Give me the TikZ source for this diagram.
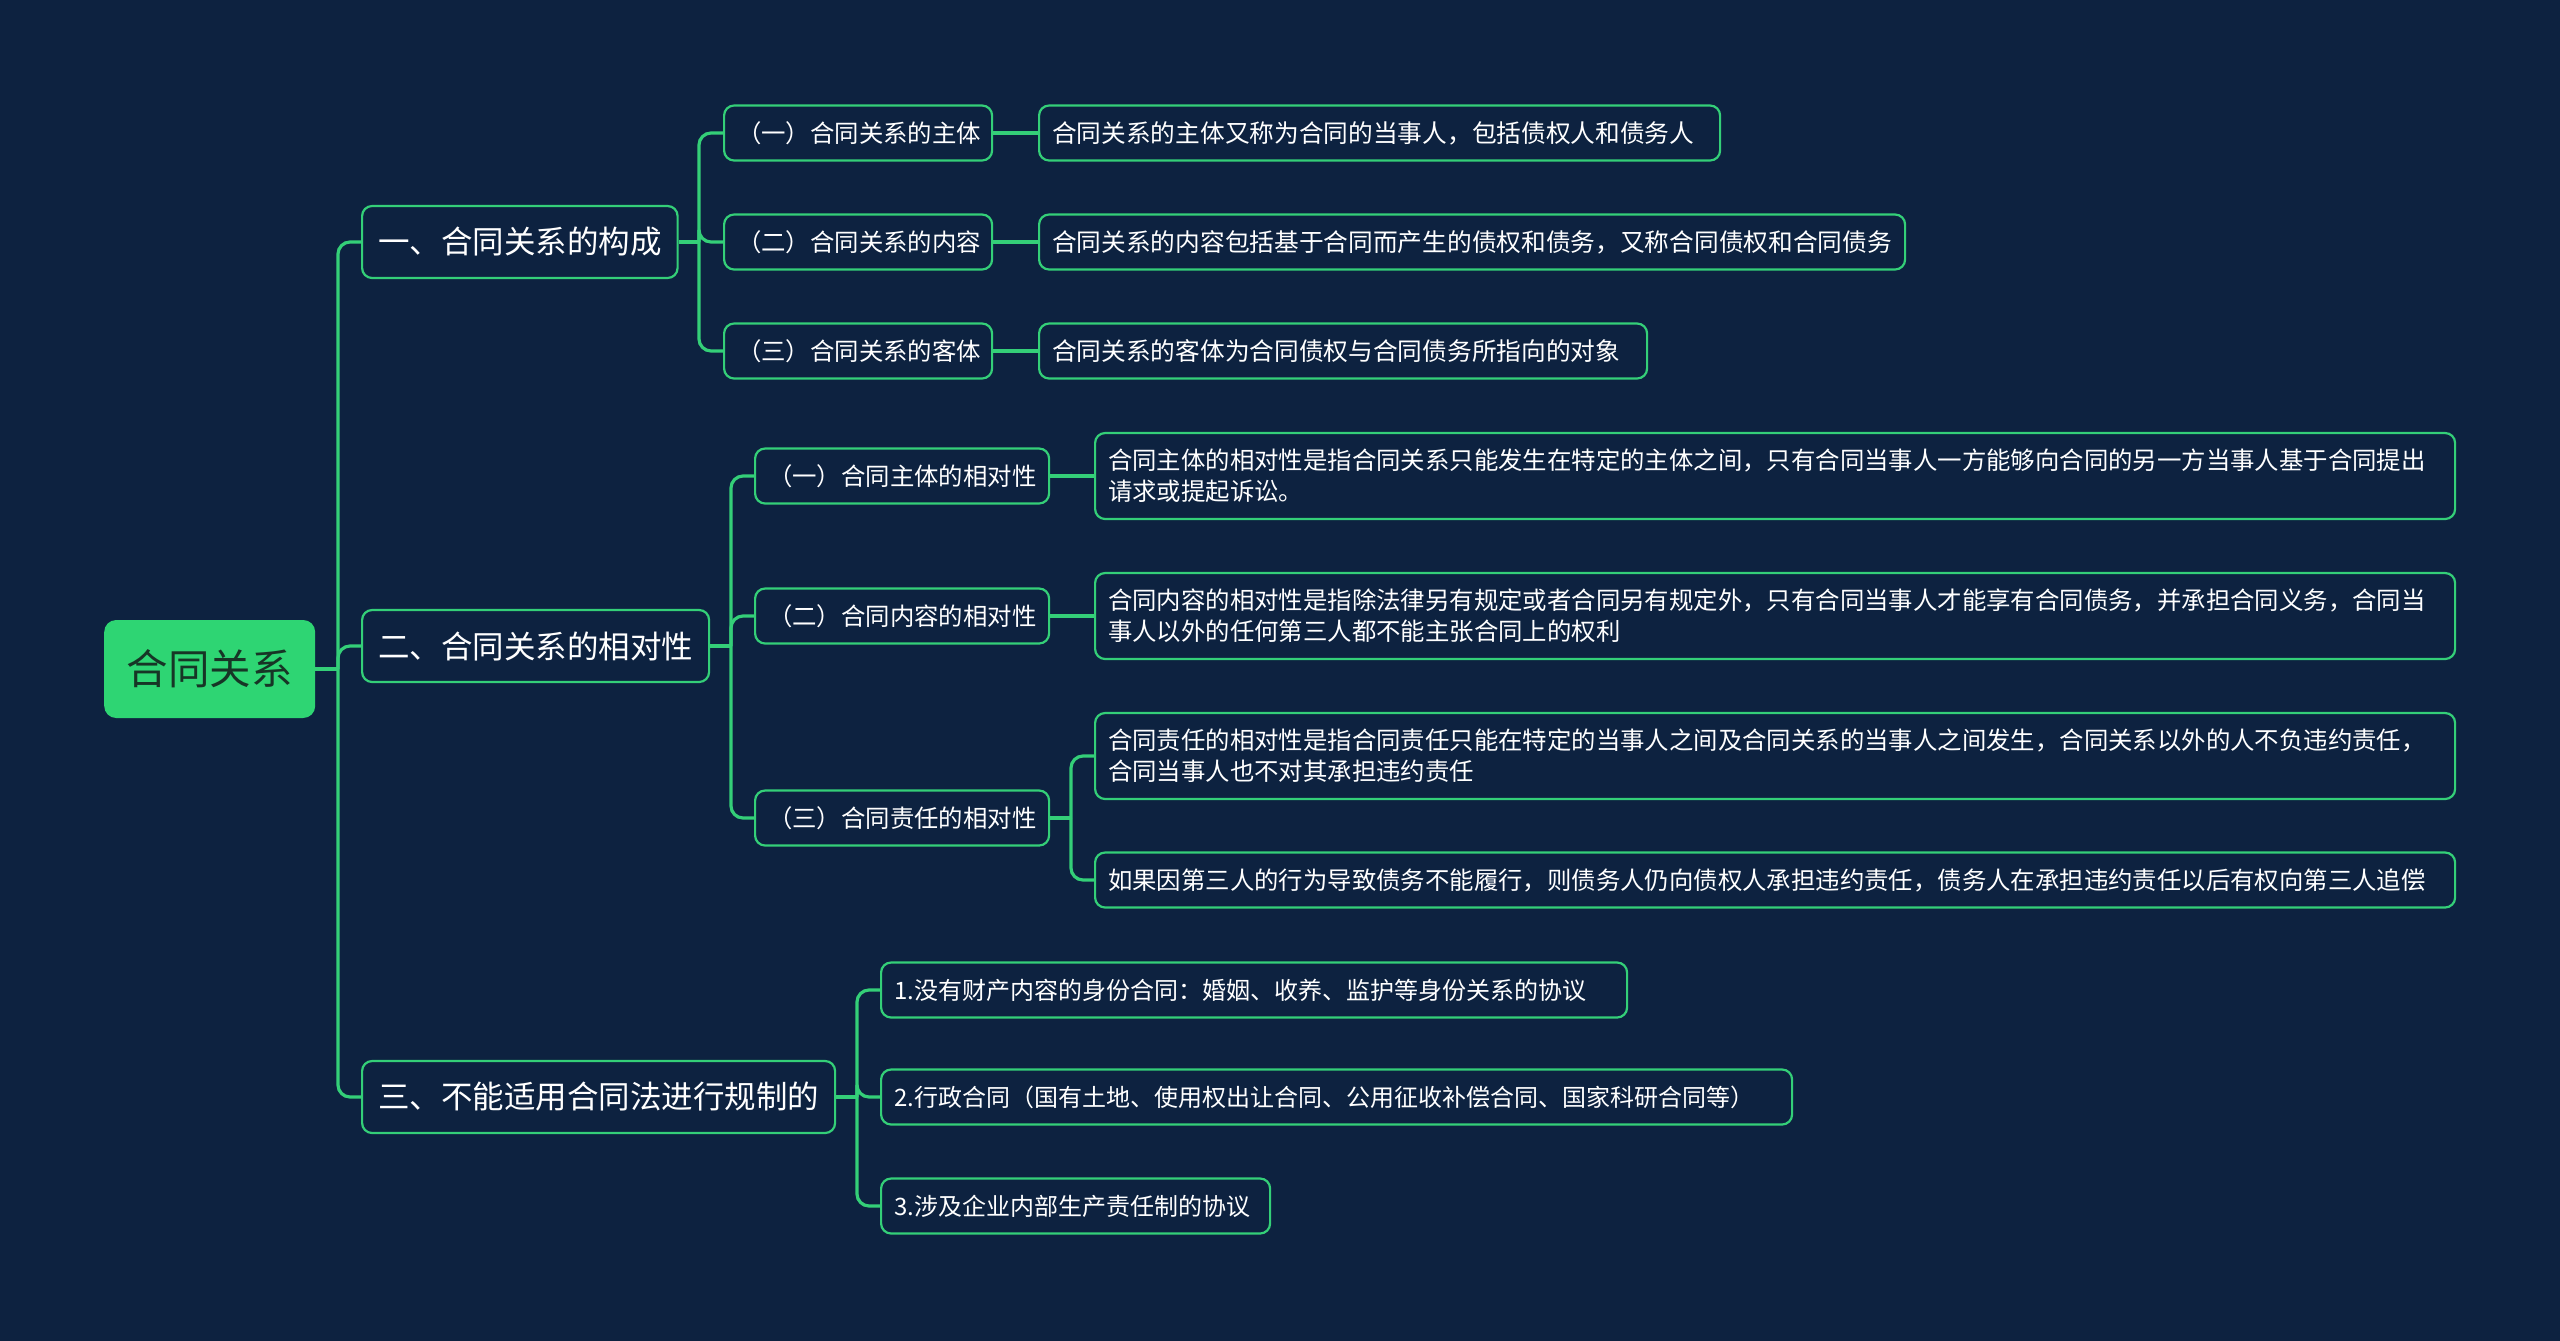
\documentclass[tikz,border=0pt]{standalone}
\usepackage{fontspec}
\setmainfont{Noto Sans CJK SC}
\definecolor{bg}{HTML}{0D2240}
\definecolor{ln}{HTML}{34CF78}
\definecolor{rootfill}{HTML}{2ED573}
\definecolor{roottext}{HTML}{173526}
\begin{document}
\begin{tikzpicture}[x=1pt,y=-1pt,
 box/.style={draw=ln, line width=2.2pt, fill=bg, rounded corners=10pt, text=white, anchor=west, inner ysep=0pt},
 lone/.style={box, font=\fontsize{31.5}{38}\selectfont, minimum height=72pt, inner xsep=16pt, align=center},
 ltwo/.style={box, font=\fontsize{24.4}{31}\selectfont, minimum height=55pt, inner xsep=13pt, align=left},
 ltwoa/.style={ltwo, font=\fontsize{24.7}{31}\selectfont},
 ltwoc/.style={ltwo, font=\fontsize{24}{31}\selectfont},
 conn/.style={draw=ln, line width=3.2pt, rounded corners=12pt},
]
\fill[bg] (0,0) rectangle (2560,1341);
\useasboundingbox (0,0) rectangle (2560,1341);

% root
\node[fill=rootfill, rounded corners=12pt, minimum width=211pt, minimum height=98pt, anchor=west,
      text=roottext, font=\fontsize{41.5}{48}\selectfont] (root) at (104,669) {合同关系};

% level 1
\node[lone, minimum width=315pt] (L1a) at (361,242) {一、合同关系的构成};
\node[lone, minimum width=346pt] (L1b) at (361,646) {二、合同关系的相对性};
\node[lone, minimum width=473pt] (L1c) at (361,1097) {三、不能适用合同法进行规制的};

% group A
\node[ltwo, text width=242pt] (A1) at (723,133) {（一）合同关系的主体};
\node[ltwo, text width=242pt] (A2) at (723,242) {（二）合同关系的内容};
\node[ltwo, text width=242pt] (A3) at (723,351) {（三）合同关系的客体};
\node[ltwoa, text width=655pt] (A1x) at (1038,133) {合同关系的主体又称为合同的当事人，包括债权人和债务人};
\node[ltwoa, text width=840pt] (A2x) at (1038,242) {合同关系的内容包括基于合同而产生的债权和债务，又称合同债权和合同债务};
\node[ltwoa, text width=582pt] (A3x) at (1038,351) {合同关系的客体为合同债权与合同债务所指向的对象};

% group B
\node[ltwo, text width=268pt] (B1) at (754,476) {（一）合同主体的相对性};
\node[ltwo, text width=268pt] (B2) at (754,616) {（二）合同内容的相对性};
\node[ltwo, text width=268pt] (B3) at (754,818) {（三）合同责任的相对性};
\node[ltwo, text width=1334pt, minimum height=86pt] (B1x) at (1094,476) {合同主体的相对性是指合同关系只能发生在特定的主体之间，只有合同当事人一方能够向合同的另一方当事人基于合同提出\\请求或提起诉讼。};
\node[ltwo, text width=1334pt, minimum height=86pt] (B2x) at (1094,616) {合同内容的相对性是指除法律另有规定或者合同另有规定外，只有合同当事人才能享有合同债务，并承担合同义务，合同当\\事人以外的任何第三人都不能主张合同上的权利};
\node[ltwo, text width=1334pt, minimum height=86pt] (B3a) at (1094,756) {合同责任的相对性是指合同责任只能在特定的当事人之间及合同关系的当事人之间发生，合同关系以外的人不负违约责任，\\合同当事人也不对其承担违约责任};
\node[ltwo, text width=1334pt] (B3b) at (1094,880) {如果因第三人的行为导致债务不能履行，则债务人仍向债权人承担违约责任，债务人在承担违约责任以后有权向第三人追偿};

% group C
\node[ltwoc, text width=720pt] (C1) at (880,990) {1.没有财产内容的身份合同：婚姻、收养、监护等身份关系的协议};
\node[ltwoc, text width=885pt] (C2) at (880,1097) {2.行政合同（国有土地、使用权出让合同、公用征收补偿合同、国家科研合同等）};
\node[ltwoc, text width=363pt] (C3) at (880,1206) {3.涉及企业内部生产责任制的协议};

% connectors
\coordinate (t0) at (338,669);
\coordinate (ta) at (699,242);
\coordinate (tb) at (731,646);
\coordinate (tb3) at (1071,818);
\coordinate (tc) at (857,1097);

\draw[conn] (root.east) -- (t0);
\draw[conn] (t0) |- (L1a.west);
\draw[conn] (t0) |- (L1b.west);
\draw[conn] (t0) |- (L1c.west);

\draw[conn] (L1a.east) -- (ta);
\draw[conn] (ta) |- (A1.west);
\draw[conn] (ta) |- (A2.west);
\draw[conn] (ta) |- (A3.west);
\draw[conn] (A1.east) -- (A1x.west);
\draw[conn] (A2.east) -- (A2x.west);
\draw[conn] (A3.east) -- (A3x.west);

\draw[conn] (L1b.east) -- (tb);
\draw[conn] (tb) |- (B1.west);
\draw[conn] (tb) |- (B2.west);
\draw[conn] (tb) |- (B3.west);
\draw[conn] (B1.east) -- (B1x.west);
\draw[conn] (B2.east) -- (B2x.west);
\draw[conn] (B3.east) -- (tb3);
\draw[conn] (tb3) |- (B3a.west);
\draw[conn] (tb3) |- (B3b.west);

\draw[conn] (L1c.east) -- (tc);
\draw[conn] (tc) |- (C1.west);
\draw[conn] (tc) |- (C2.west);
\draw[conn] (tc) |- (C3.west);
\end{tikzpicture}
\end{document}
